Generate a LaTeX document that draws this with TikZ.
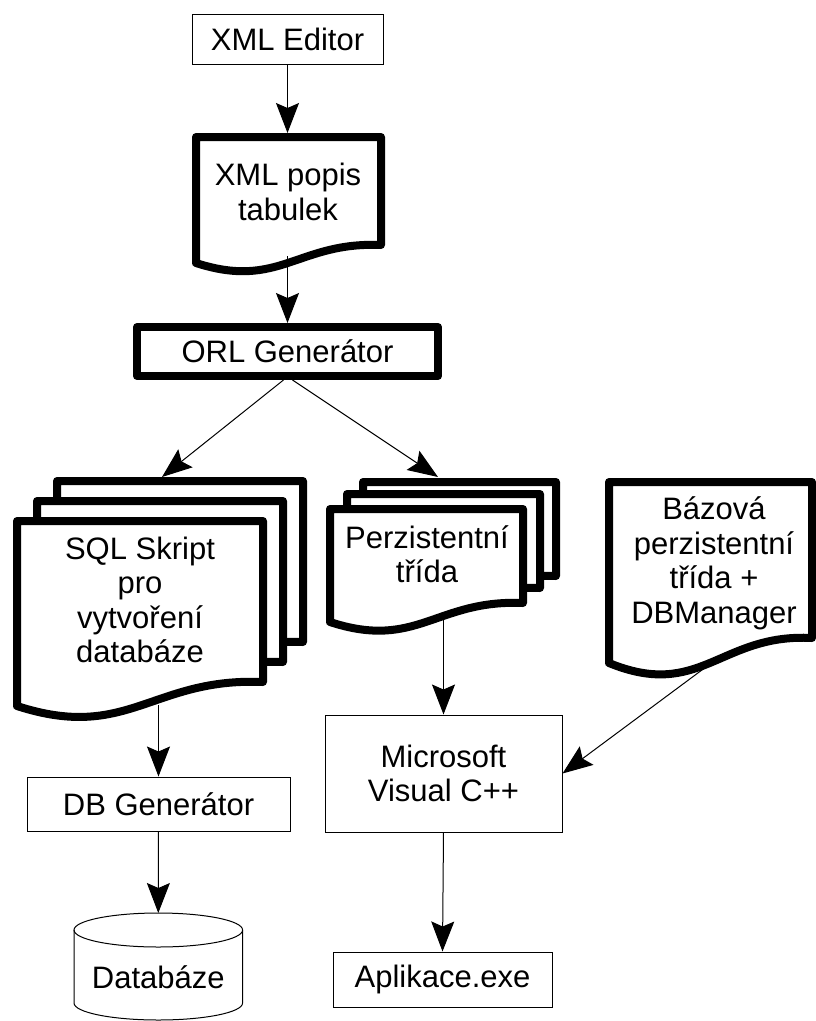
\documentclass[tikz,border=0pt]{standalone}
\usepackage{fontspec}
\setmainfont{Liberation Sans}
\usetikzlibrary{arrows.meta,calc}
% document shape: L T R yLeftBottom yRightBottom
\newcommand{\docpath}[5]{(#1,#2) -- (#3,#2) -- (#3,#5) .. controls ({#1+0.55*(#3-#1)},{#5-0.2*(#4-#5)}) and ({#1+0.45*(#3-#1)},{#4+1.5*(#4-#5)}) .. (#1,#4) -- cycle}
\tikzset{
  lbl/.style={font=\fontsize{31}{34.5}\selectfont, align=center, inner sep=0pt},
  thinbox/.style={draw, line width=1pt, inner sep=0pt, font=\fontsize{31}{34.5}\selectfont, align=center},
  thickbox/.style={draw, line width=8pt, line join=round, inner sep=0pt, font=\fontsize{31}{34.5}\selectfont, align=center},
  doc/.style={draw, fill=white, line width=8pt, line join=round},
  conn/.style={line width=1pt, -{Stealth[length=30pt,width=23pt,inset=5pt]}},
}
\begin{document}
\begin{tikzpicture}[x=1pt,y=-1pt]
\useasboundingbox (0,0) rectangle (816,1021);
% XML editor
\node[thinbox, minimum width=191pt, minimum height=50pt] (editor) at (287.5,39) {XML Editor};
% XML popis document
\draw[doc] \docpath{196}{137}{381}{263}{245};
\node[lbl] (popis) at (288,192) {XML popis\\tabulek};
\coordinate (popistop) at (287.5,133);
\coordinate (popisbot) at (287.5,256);
% ORL generator
\node[thickbox, minimum width=301pt, minimum height=49pt] (orl) at (287.5,351.5) {ORL Generátor};
\coordinate (orlL) at (283.5,380);
\coordinate (orlR) at (292.5,380);
% SQL stack
\foreach \s in {40,20,0} {\draw[doc, shift={(\s,-\s)}] \docpath{17}{521}{263}{706}{682};}
\node[lbl] (sql) at (140,600) {SQL Skript\\pro\\vytvoření\\databáze};
\coordinate (sqltop) at (162,477);
\coordinate (sqlbot) at (158.5,705);
% Perzistentni stack
\foreach \dx/\dy in {33/27,17/15,0/0} {\draw[doc, shift={(\dx,-\dy)}] \docpath{330}{509}{523}{622}{603};}
\node[lbl] (perz) at (427,554) {Perzistentní\\třída};
\coordinate (perztop) at (438,477);
\coordinate (perzbot) at (443.5,612);
% Bazova document
\draw[doc] \docpath{609}{482}{812}{663}{638};
\node[lbl] (baz) at (714,563.5) {Bázová\\perzistentní\\třída +\\DBManager};
\coordinate (bazbot) at (710,664);
% boxes
\node[thinbox, minimum width=237pt, minimum height=117pt] (ms) at (443.5,773.5) {Microsoft\\Visual C++};
\node[thinbox, minimum width=219pt, minimum height=55pt] (app) at (442.5,979.5) {Aplikace.exe};
\node[thinbox, minimum width=263pt, minimum height=54pt] (dbgen) at (158.5,804) {DB Generátor};
% database cylinder
\draw[line width=1pt, fill=white] (74,930) -- (74,1003) arc[start angle=180, end angle=360, x radius=84.3pt, y radius=17pt] -- (242.6,930);
\draw[line width=1pt] (158.3,930) ellipse[x radius=84.3pt, y radius=17pt];
\node[lbl] (db) at (158.3,977) {Databáze};
\coordinate (dbtop) at (158.3,913);
% connectors
\draw[conn] (editor.south) -- (popistop);
\draw[conn] (popisbot) -- (orl.north);
\draw[conn] (orlL) -- (sqltop);
\draw[conn] (orlR) -- (perztop);
\draw[conn] (sqlbot) -- (dbgen.north);
\draw[conn] (dbgen.south) -- (dbtop);
\draw[conn] (perzbot) -- (ms.north);
\draw[conn] (bazbot) -- (ms.east);
\draw[conn] (ms.south) -- (app.north);
\end{tikzpicture}
\end{document}
